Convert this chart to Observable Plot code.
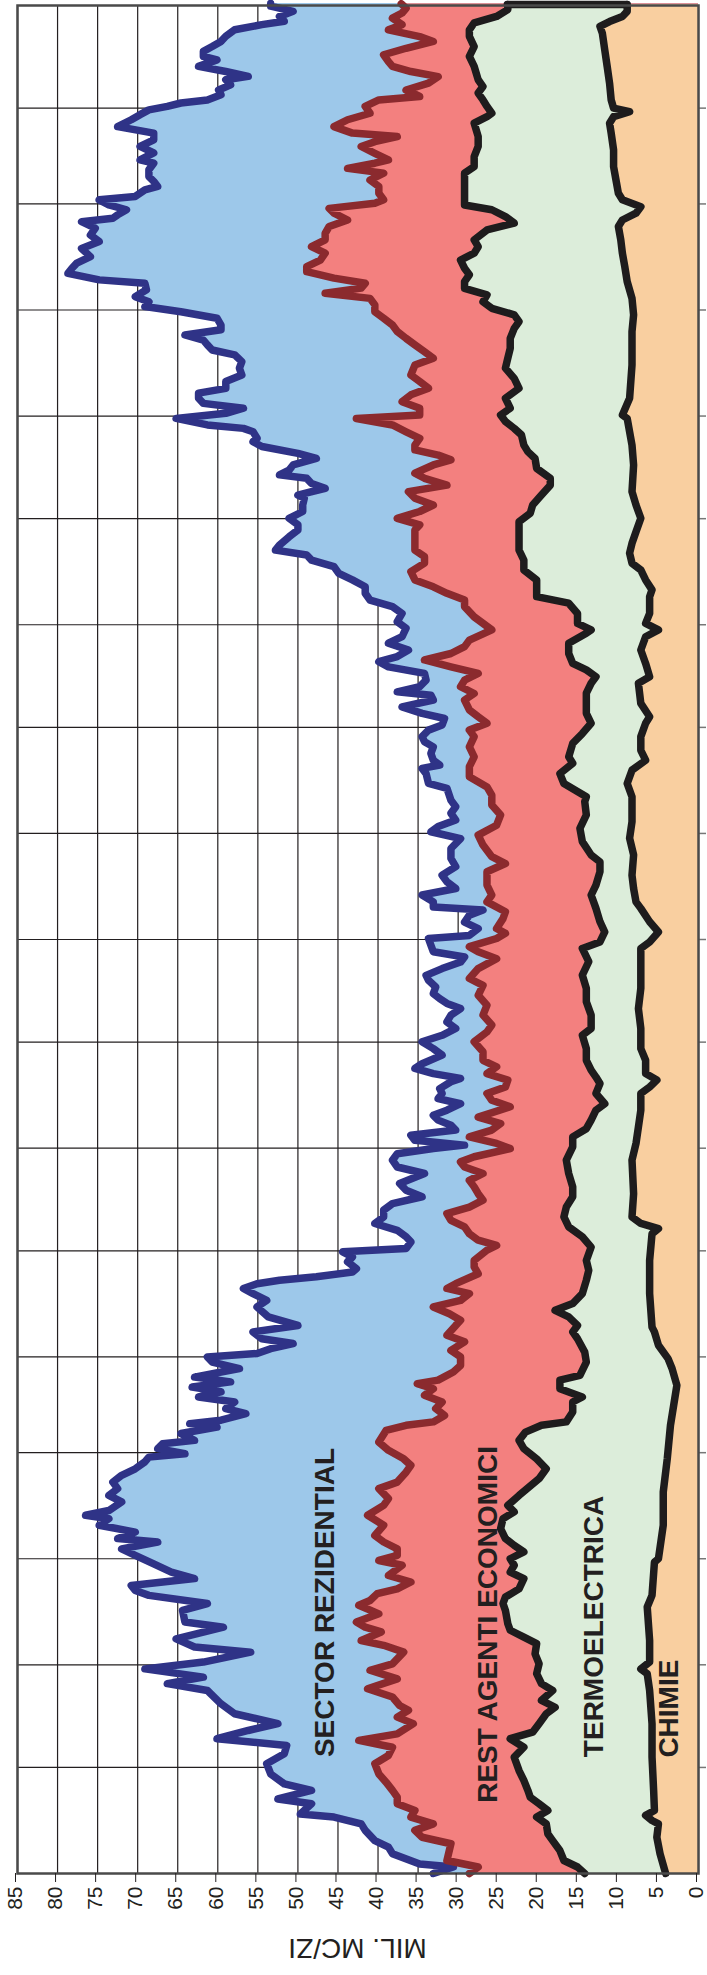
<!DOCTYPE html>
<html><head><meta charset="utf-8">
<script src="https://cdn.jsdelivr.net/npm/d3@7"></script>
<script src="https://cdn.jsdelivr.net/npm/@observablehq/plot@0.6"></script>
<style>
body{margin:0;background:#fff;font-family:"Liberation Sans",Arial,sans-serif;}
#xlabel{width:681px;margin-left:17px;height:46px;line-height:46px;text-align:center;font-size:28px;color:#231f20;transform:rotate(180deg);}
</style></head><body>
<div id="chart"></div>
<div id="xlabel">MIL. MC/ZI</div>
<script>
// value axis ticks (mil. mc/zi)
const xTicks = [0,5,10,15,20,25,30,35,40,45,50,55,60,65,70,75,80,85];
// day index of month boundaries (Oct 1 = day 0 ... Mar of the second year)
const monthStarts = [31,61,92,123,151,182,212,243,273,304,335,365,396,426,457,488,516];
const sectors = ["SECTOR REZIDENTIAL","REST AGENTI ECONOMICI","TERMOELECTRICA","CHIMIE"];
// label anchors [day, value]
const labelAnchors = [[79.2,46.6],[72.8,26.3],[72.2,13],[48.2,3.7]];

// stacked totals: [day, cumulative value]
const rezidential = [[0,33.1],[1.9,30.6],[2.8,34.8],[5.8,38.2],[7.7,38.7],[9.6,40.4],[12.6,41.6],[14.5,42.1],[16.5,45.5],[17.4,49.7],[20.4,48.3],[21.8,52.5],[24.3,48.3],[26.2,51.7],[29.1,53.4],[32.1,53.9],[35,51.7],[37.4,51.4],[39.4,60.1],[41.8,56.2],[43.8,52.5],[46.7,57.9],[49.6,59.6],[53.5,61.3],[55.5,66.3],[57.4,61.8],[59.8,69.1],[61.8,61.8],[64.7,55.9],[66.2,62.9],[68.6,65.2],[72,59.3],[73.5,64.1],[76.9,64.4],[78.9,61.3],[81.3,68.6],[82.7,70.3],[84.2,70.8],[86.2,62.9],[88.1,65.8],[90.5,68],[93,70.3],[94.9,72],[96.9,67.5],[97.9,72.5],[99.8,70.3],[101.8,74.8],[103.7,73.6],[104.7,76.5],[106.1,73.6],[108.6,72],[110.5,73.6],[112.5,72.5],[114.4,73.1],[116.4,72],[118.3,70.3],[120.3,69.1],[121.7,68.6],[122.7,64.1],[124.2,67.5],[125.6,66.9],[126.6,62.9],[128.6,64.6],[130.5,60.1],[131.5,63.5],[132.5,59.6],[134.4,56.5],[135.9,59],[137.8,57.9],[139.3,62.4],[140.8,59.6],[142.2,63.2],[143.7,58.4],[145.1,62.9],[147.6,57.3],[149.5,60.7],[151,61.3],[152,55.1],[153.4,53.4],[154.9,50.6],[156.3,54.5],[158.3,55.6],[160.2,50],[162.7,53.7],[165.6,55.1],[167.5,53.9],[169.5,55.6],[171,56.8],[172.4,55.1],[173.4,52.3],[174.4,47.7],[175.8,43.2],[176.8,42.7],[178.8,43.8],[180.2,43.2],[181.7,44.4],[182.7,36.5],[184.6,35.9],[186.1,36.5],[188,37.6],[190,40.4],[191.9,39.3],[193.9,39.3],[195.8,38.2],[197.8,34.5],[199.7,36.5],[201.7,37.3],[204.6,34.2],[206.5,37.6],[208.5,38.2],[210.4,37.6],[211.9,33.1],[212.9,29.2],[214.3,35.4],[215.8,35.9],[217.3,30.3],[218.7,30.9],[220.2,32.5],[221.6,33.1],[223.1,31.4],[225,29.7],[226.5,32.5],[228,32],[229.4,32.3],[231.4,30.9],[232.4,29.7],[233.8,33.1],[235.3,35.4],[236.7,34.5],[239.2,32],[241.1,33.1],[243.1,34.5],[245,32],[247,30.3],[248.9,31.4],[250.9,30.9],[252.8,29.7],[254.3,31.4],[255.7,32.3],[257.2,33.1],[259.1,32.8],[261.1,33.7],[262.5,34],[264.5,32],[266.4,29.7],[267.9,29.2],[269.4,33.1],[271.3,33.4],[273.3,33.7],[274.2,28.6],[276.2,27.5],[278.1,29.2],[280.1,28.6],[281.6,26.9],[282.5,33.1],[284,33.1],[286,34.5],[287.9,30.3],[289.9,31.4],[291.8,32],[294.3,30.3],[296.7,30.9],[299.6,30.9],[302.5,29.7],[304.5,33.4],[306,32.5],[307.9,30.3],[309.9,30.9],[311.8,30.3],[313.7,30.9],[317.2,31.4],[318.6,33.7],[321.5,34],[323,34.5],[324,32.3],[325.4,33.1],[327.4,33.4],[329.3,33.1],[330.8,34.2],[332.3,34.5],[334.2,33.7],[335.7,32],[337.6,31.7],[339.1,34.5],[341,37],[343,33.1],[344.4,33.4],[345.4,37.6],[346.9,34.8],[348.8,34],[350.8,34.2],[352.7,38.7],[354.2,39.9],[355.7,37.6],[357.6,36.2],[359.6,38.7],[361.5,37],[364,36.5],[365.9,37.6],[368.3,37],[370.3,38.2],[372.2,41],[374.2,41.6],[376.1,41.6],[378.1,43.2],[380,44.9],[382,45.5],[383.9,48.3],[385.4,48.9],[386.8,52.8],[388.3,52.3],[390.7,51.1],[392.7,50],[394.2,50],[396.1,51.1],[398.1,49.4],[400,49.4],[402,49.2],[402.9,50],[404.9,46.6],[406.3,48.3],[407.8,48.9],[408.8,52.3],[410.2,51.1],[411.7,50.6],[413.6,47.7],[415.1,50],[417.1,54.5],[418.5,55.6],[419.5,55.1],[421.4,55.6],[422.4,56.8],[423.4,61.3],[425.3,65.2],[426.8,59],[428.3,56.8],[429.7,61.8],[431.2,62.4],[432.7,62.4],[434.1,59],[436.1,59],[438,57],[440,57.3],[441.9,57],[443.9,57.9],[445.3,60.7],[446.8,61.3],[448.2,61.8],[449.7,64.1],[451.2,59.6],[452.6,59.6],[454.6,60.1],[456.5,64.6],[458,69.1],[459.4,68.6],[460.9,70.3],[462.9,68.9],[464.8,69.1],[465.8,74.8],[467.7,78.7],[469.2,78.2],[470.7,77.6],[472.6,75.9],[475,77],[477,74.8],[478.9,75.9],[480.9,75.3],[482.8,77],[483.8,73.1],[484.8,72.5],[486.3,71.4],[487.7,73.6],[489.2,74.8],[490.2,70.3],[492.1,69.1],[493.1,67.5],[494.6,68],[496,68.6],[498,68.6],[499.9,68],[500.9,69.7],[502.9,68],[504.8,69.7],[506.7,68],[508.7,68],[510.6,72.5],[512.6,70.8],[514.1,69.7],[515.5,68.6],[516.5,66.3],[517.5,64.6],[518.4,61.3],[519.9,59.6],[521.3,59.9],[522.8,58.4],[524.3,59],[525.3,56.2],[526.7,59],[528.2,62.4],[530.1,60.1],[531.1,61.8],[532.6,61.8],[534,60.7],[535.5,59.6],[537,59],[538.9,57.9],[540.4,54.5],[541.4,51.7],[542.8,52.3],[544.3,50.6],[545.8,53.4],[546.6,53.4]];

const restAgenti = [[0,28.6],[1.9,27.5],[3.8,31.4],[8.7,30.9],[10.6,34.5],[12.6,35.4],[14.5,33.1],[16.5,35.9],[18.4,35.4],[20.4,37.6],[22.3,37.6],[24.3,38.2],[26.7,39],[29.1,39.9],[32.1,40.4],[34.5,38.7],[36.9,38.2],[38.9,42.4],[40.8,37.6],[43.8,35.6],[45.7,37.6],[47.7,36.2],[49.1,37.3],[51.6,38.2],[54,41.3],[56.9,37.6],[59.4,41],[61.3,38.2],[64.7,36.8],[66.7,39.3],[68.1,42.1],[70.6,39.6],[72,41.6],[73.5,42.7],[75.9,39.9],[78.4,42.4],[79.8,41],[81.8,40.1],[83.2,37.6],[85.2,35.9],[87.1,38.7],[90.1,37],[91.5,39.9],[93,37.6],[94.9,37.6],[96.9,39.3],[98.8,40.4],[101.8,39.3],[104.7,41.3],[107.6,39.3],[109.6,38.7],[112.5,39.9],[114.4,37.6],[117.3,36.5],[119.3,35.9],[121.2,36.8],[123.7,38.7],[126.1,39.9],[129.5,39],[131,36.5],[132,33.1],[133.9,31.7],[135.9,32.8],[137.8,32],[139.8,34.2],[141.7,33.1],[143.2,35.1],[144.2,32.5],[146.6,30.6],[148.5,29.7],[151,29.7],[152.9,30.9],[155.4,29.2],[157.3,31.4],[160.2,30.3],[161.7,29.7],[163.6,31.1],[165.6,33.1],[167.5,29.7],[169.5,28.6],[171,31.4],[172.4,30.3],[175.3,27.5],[177.3,28],[179.2,28],[182.2,26.4],[183.6,25.2],[185.1,27.5],[187,28.6],[189,29.2],[190.9,30.9],[192.9,31.4],[194.8,28.6],[196.8,26.9],[198.7,27.5],[200.7,28],[202.6,28.6],[204.6,26.9],[206.5,29.2],[208,29.7],[209.5,28],[211.9,23.5],[213.4,25.2],[215.3,28.6],[217.3,25.8],[219.2,24.7],[221.1,27.5],[224.1,23.5],[226,25.8],[228,26.4],[229.9,24.1],[231.9,23.8],[233.8,26.4],[235.8,25.2],[237.7,26.9],[240.2,26.9],[243.1,28],[246,26.4],[248,25.8],[250.9,26.9],[253.8,26.4],[256.7,27.5],[259.6,26.9],[261.6,28.6],[264.5,27.5],[267.4,25.2],[269.4,27.5],[270.9,28.6],[273.3,25.2],[274.8,24.1],[276.2,25.2],[279.1,24.4],[281.1,24.1],[284,26.4],[286,25.8],[288.9,26.4],[292.8,26.4],[295.2,24.1],[297.2,25.8],[300.6,26.9],[303.5,27.5],[306.4,25.2],[309.4,24.7],[312.3,25.8],[315.2,25.8],[317.6,26.4],[320.6,28.6],[323.5,28.6],[326.4,28],[329.3,28.6],[332.3,28],[334.2,28.6],[336.2,26.4],[338.1,27.5],[340.1,28.6],[343,29.2],[344.9,28],[346.9,29.7],[348.8,29.2],[350.8,27.5],[352.7,30.9],[354.7,34.2],[356.6,30.9],[358.6,29.2],[360.5,28.6],[363.5,25.8],[365.4,26.9],[367.3,28],[370.3,29.2],[372.2,29.2],[374.2,31.4],[376.1,33.1],[378.1,35.4],[380.5,35.9],[383,34.2],[384.9,34.2],[386.8,35.4],[389.8,35.4],[392.7,35.4],[394.2,34.8],[396.1,37.6],[398.1,34.8],[400,33.1],[402,35.4],[403.9,36.2],[405.8,31.4],[407.8,34.2],[409.3,35.4],[411.7,33.1],[413.2,30.9],[414.6,32.5],[416.1,35.4],[417.5,35.4],[419.5,34.8],[421.4,36.5],[423.4,38.2],[425.3,42.7],[426.3,34.8],[428.3,34.8],[430.2,37],[432.2,35.9],[434.1,33.7],[436.1,34.8],[438,35.9],[440.9,35.4],[442.9,33.1],[444.8,34.2],[446.8,35.4],[448.7,36.5],[450.7,37.6],[452.6,38.2],[454.6,39.3],[456.5,40.4],[458.5,40.4],[460.4,41],[461.9,46.6],[463.4,42.1],[464.8,41.6],[466.3,45.5],[468.2,48.9],[469.7,48.9],[471.6,47.2],[473.6,46.6],[475.5,48.3],[477.5,46.6],[479.4,46.6],[481.4,46.1],[483.3,43.8],[485.3,45.5],[486.7,46.1],[488.2,40.4],[489.2,39.3],[491.1,39.9],[493.1,39.9],[495,41],[497,39.3],[498.4,43.8],[499.9,40.4],[500.9,38.7],[502.8,40.4],[504.8,42.1],[506.2,40.4],[507.7,37.6],[508.7,43.2],[510.6,45.5],[512.6,43.8],[514.5,41],[516.5,41.6],[518.4,39.9],[519.4,34.8],[521.3,36.5],[523.3,33.7],[525.2,32.5],[526.7,35.9],[528.2,38.2],[529.6,38.7],[531.6,39.3],[533.5,36.5],[535.5,33.1],[536.9,34.8],[538.9,38.7],[540.4,37],[542.3,38.2],[543.8,37],[545.2,36.5],[546.5,37.1]];

const termoelectrica = [[0,14.2],[1.9,15.1],[3.8,16.8],[6.7,17.3],[9.6,18.2],[11.6,18.8],[14.5,19],[16.5,20.2],[18.4,18.8],[20.4,19.9],[22.3,21],[24.3,21.3],[27.2,21.8],[30.1,22.4],[34,23],[36.9,21.8],[39.4,23.5],[41.3,20.7],[43.8,19.9],[46.7,19],[48.6,17.9],[50.6,19.6],[53.5,18.2],[55.5,19.6],[58.4,20.2],[61.3,19.9],[64.2,20.4],[67.2,20.2],[69.1,21.8],[71.1,23.5],[73,23.8],[76.9,24.1],[78.9,24.4],[80.8,24.1],[83.2,22.4],[86.2,21.8],[88.1,23.5],[90.1,23],[92,23.5],[94,21.8],[95.9,23],[97.9,24.1],[100.8,24.7],[103.7,24.4],[105.7,23],[107.6,23.8],[110.5,22.4],[115.4,19.9],[118.3,19],[121.2,20.2],[124.2,21.8],[126.6,22.4],[129,21.6],[131,19.6],[132,16.5],[134.9,15.7],[137.8,15.7],[139.3,14.5],[141.7,17.3],[144.2,17.3],[145.6,14.8],[149.5,14],[152.4,14.2],[156.3,15.1],[158.3,15.7],[160.2,15.1],[162.7,16.2],[164.6,17.9],[166.6,15.7],[169.5,14.5],[173.4,14],[176.3,13.7],[179.2,14],[183.1,13.4],[186.1,14.5],[189,16.2],[191.9,16.8],[194.8,16.5],[197.8,15.7],[200.7,15.7],[204.6,16.2],[208.5,16.5],[212.4,15.7],[215.3,15.7],[217.7,14],[220.2,13.4],[223.1,12.8],[225,11.7],[228,12.8],[230.9,12.3],[232.8,12.8],[234.8,13.4],[237.7,14],[241.1,14],[245,14.5],[247,13.4],[250.9,13.4],[254.8,14],[258.7,14],[262.6,14.5],[266.5,13.7],[270.4,14.5],[272.3,12.3],[275.2,11.7],[278.2,12.3],[282.1,12.8],[286,13.4],[288.9,12.8],[292.8,12.3],[295.7,12.3],[297.7,13.4],[301.6,14.5],[305.5,14.8],[309.4,14],[313.3,14.2],[314.7,14],[318.6,16.8],[321.5,17.3],[324.5,15.7],[326.4,16.2],[330.3,15.7],[333.2,14.5],[336.2,13.4],[339.1,14],[342,14],[345,14],[347.9,13.4],[349.8,12.8],[351.8,14],[353.7,15.7],[356.6,16.2],[359.6,16.2],[362.5,14],[363.5,13.4],[365.4,15.1],[368.3,15.1],[371.3,16.2],[373.2,20.2],[375.2,20.2],[378.1,20.2],[381,21.8],[383.9,21.8],[386.8,22.4],[389.8,22.4],[392.2,22.4],[395.1,22.4],[397.6,21],[400,20.7],[402.9,19.6],[405.8,18.5],[407.8,18.5],[410.7,20.2],[413.6,20.4],[415.6,21.3],[417.5,21.8],[420.5,22.1],[422.4,23],[424.4,24.1],[426.3,24.7],[428.3,23.5],[431.2,24.1],[434.1,22.4],[437,23],[440,24.1],[442.9,23.8],[445.8,23.5],[448.7,23.5],[451.6,23],[453.6,22.4],[455.6,23],[457.5,25.8],[459.4,26.9],[461.4,26.4],[463.3,29.2],[465.3,29.2],[467.3,28.6],[469.2,29.2],[471.6,29.7],[473.6,28],[475.5,27.5],[477.5,28],[480.4,26.4],[482.4,23],[484.3,24.1],[486.3,25.8],[487.7,29.2],[489.2,29.2],[493.1,29.2],[497,29.2],[498.9,28],[501.8,28],[504.8,27.5],[507.7,27.5],[511.6,28],[513.5,26.4],[514.5,25.8],[516.5,26.4],[518.4,26.9],[520.4,27.5],[522.3,26.9],[524.3,27.5],[528.2,28],[531.1,28.6],[534,28],[537,28.6],[538.9,28.6],[540.9,28],[542.8,25.2],[544.8,23.8],[546.3,23.8]];

const chimie = [[0,4.1],[5.8,4.8],[10.6,5.2],[14.5,5],[15.5,5.8],[17,6.6],[18.4,5.5],[24.3,5.6],[34,5.8],[43.8,5.8],[53.5,6.1],[58.4,6.4],[59.8,7.2],[61.8,6.1],[68.1,6.1],[77.9,6.4],[81.3,5.8],[91,5.5],[92,5],[101.8,4.4],[111.5,4.4],[121.2,3.9],[131,3.5],[142.7,2.7],[147.6,3.3],[150.5,3.8],[154.4,5],[158.3,5.5],[159.7,5.8],[169.5,6.1],[179.2,6.1],[187,5.8],[188.5,5],[190,7.2],[191.9,8.3],[198.7,8.1],[208.5,8.3],[213.4,7.8],[218.2,7.5],[223.1,7.2],[228,7.2],[229.9,6.1],[231.9,5.2],[233.8,6.6],[237.7,6.6],[241.1,7.2],[247,7.2],[252.8,7.5],[258.7,7.2],[264.5,7.2],[270.4,7.2],[272.3,6.1],[275.2,5],[278.2,6.1],[282.1,7.2],[284,7.8],[287.9,8.1],[291.8,8.3],[297.7,8.1],[302.6,8.6],[307.4,8.3],[311.3,8.3],[314.7,8.3],[318.6,8.9],[322.5,8.3],[325.4,6.6],[328.3,7.2],[332.3,7.2],[336.2,6.6],[338.1,6.1],[342,7.2],[347.9,7.5],[349.8,6.1],[353.7,6.6],[357.6,7.2],[361.5,6.6],[363.5,5],[365.4,6.6],[368.3,6.1],[373.2,6.1],[375.2,5.8],[378.1,6.6],[381,7.2],[383,8.3],[385.9,8.6],[388.8,8.3],[392.2,7.8],[396.1,7.2],[400,7.8],[403.9,8.3],[411.7,8.1],[417.5,8.3],[425.3,8.9],[426.3,9.5],[431.2,8.6],[440.9,8.3],[450.7,8.3],[455.6,8.1],[460.4,8.3],[465.3,8.9],[469.7,9.2],[473.6,9.5],[477.5,9.7],[481.4,10],[483.3,9.5],[485.3,7.8],[487.2,7.2],[489.2,9.5],[491.1,10],[495,10.3],[498.9,10.6],[503.8,10.6],[508.7,10.9],[511.6,11.1],[513.5,10.6],[515,8.6],[516,10.6],[518.4,10.9],[523.3,11.1],[528.2,11.4],[533,11.7],[537.9,12],[539.9,12.3],[541.3,11.1],[542.8,9.5],[544.3,8.9],[546.3,8.9]];

const rows = s => s.map(([day, v]) => ({day, v}));
const rez = rows(rezidential), rest = rows(restAgenti), termo = rows(termoelectrica), chim = rows(chimie);
const labels = sectors.map((name, i) => ({name, day: labelAnchors[i][0], v: labelAnchors[i][1]}));
const lastT = termo[termo.length - 1], lastC = chim[chim.length - 1];
const topEdge = [{day: lastT.day, a: lastC.v, b: lastT.v}];

const font = "'Liberation Sans', Arial, Helvetica, sans-serif";
const ink = "#231f20";
const zero = () => 0;
const lineStyle = {strokeWidth: 7.5, strokeLinejoin: "round", strokeLinecap: "round"};

const chart = Plot.plot({
  width: 707,
  height: 1925,
  marginLeft: 17,
  marginRight: 9,
  marginTop: 5,
  marginBottom: 52,
  style: {fontFamily: font, background: "#fff", color: ink},
  x: {domain: [0, 85], reverse: true},
  y: {domain: [0, 546], axis: null},
  marks: [
    Plot.gridX({ticks: xTicks, stroke: ink, strokeOpacity: 1, strokeWidth: 1.2}),
    Plot.gridY({ticks: monthStarts, stroke: ink, strokeOpacity: 1, strokeWidth: 1.2}),
    Plot.areaX(rez, {y: "day", x1: zero, x2: "v", fill: "#9dc8ea"}),
    Plot.areaX(rest, {y: "day", x1: zero, x2: "v", fill: "#f3807f"}),
    Plot.areaX(termo, {y: "day", x1: zero, x2: "v", fill: "#dcedda"}),
    Plot.areaX(chim, {y: "day", x1: zero, x2: "v", fill: "#f9cfa0"}),
    Plot.lineX(rez, {x: "v", y: "day", stroke: "#2f3387", ...lineStyle}),
    Plot.lineX(rest, {x: "v", y: "day", stroke: "#8b2a2e", ...lineStyle}),
    Plot.lineX(termo, {x: "v", y: "day", stroke: "#1e1c1d", ...lineStyle}),
    Plot.lineX(chim, {x: "v", y: "day", stroke: "#1e1c1d", ...lineStyle}),
    Plot.ruleY(topEdge, {y: "day", x1: "a", x2: "b", stroke: "#1e1c1d", strokeWidth: 7.5, strokeLinecap: "round"}),
    Plot.text(labels, {x: "v", y: "day", text: "name", rotate: -90, fontSize: 28, fontWeight: "bold", fill: ink, fontFamily: font}),
    Plot.ruleY(monthStarts, {y: d => d, x1: zero, x2: () => -1, stroke: "#777", strokeWidth: 1.5}),
    Plot.frame({stroke: "#4a4a4a", strokeWidth: 2.5}),
    Plot.axisX({ticks: xTicks, tickRotate: -90, tickSize: 9, tickPadding: 4, fontSize: 21, dx: -2, label: null, color: ink, fontFamily: font})
  ]
});
document.getElementById("chart").appendChild(chart);
</script>
</body></html>
